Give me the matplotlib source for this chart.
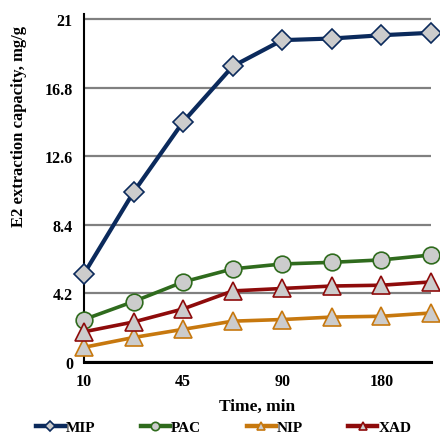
import numpy as np
import matplotlib.pyplot as plt

plt.rcParams['font.family'] = ['Liberation Serif', 'DejaVu Serif']
plt.rcParams['font.weight'] = 'bold'

# data
times = ['10', '30', '45', '60', '90', '120', '180', '240']
mip = [5.4, 10.4, 14.7, 18.1, 19.7, 19.8, 20.0, 20.15]
pac = [2.6, 3.7, 4.9, 5.7, 6.0, 6.1, 6.25, 6.55]
nip = [0.9, 1.5, 2.0, 2.5, 2.6, 2.75, 2.8, 3.0]
xad = [1.85, 2.45, 3.25, 4.35, 4.5, 4.65, 4.7, 4.9]

series = [('MIP', mip, '#0b2a5c', 'D', 10),
          ('PAC', pac, '#2f6b1d', 'o', 12),
          ('NIP', nip, '#c7780e', '^', 12.5),
          ('XAD', xad, '#8e0b0b', '^', 12.5)]

fig = plt.figure(figsize=(4.4, 4.35), dpi=100)
ax = fig.add_axes([84/440, 1 - 363/435, (431-84)/440, (363-15)/435])

x = np.arange(len(times))
for name, vals, col, mk, ms in series:
    ax.plot(x, vals, color=col, lw=3 if name == 'MIP' else 2.6,
            marker=mk, ms=ms, mfc='#cccccc', mec=col, mew=1.2,
            label=name, clip_on=False, zorder=3)

ax.set_xlim(0, 7)
ax.set_ylim(0, 21.3)
ax.set_yticks([0, 4.2, 8.4, 12.6, 16.8, 21])
ax.set_yticklabels(['0', '4.2', '8.4', '12.6', '16.8', '21'])
ax.set_xticks(x[::2])
ax.set_xticklabels(times[::2])
ax.tick_params(length=0, labelsize=11.5, pad=8)
ax.yaxis.grid(True, color='#808080', lw=1.6)
ax.set_axisbelow(True)

for s in ['top', 'right']:
    ax.spines[s].set_visible(False)
ax.spines['left'].set_linewidth(1.5)
ax.spines['bottom'].set_linewidth(2.2)

ax.set_xlabel('Time, min', fontsize=12.5, fontweight='bold', labelpad=6)
ax.set_ylabel('E2 extraction capacity, mg/g', fontsize=12, fontweight='bold')
ax.yaxis.set_label_coords(-0.165, 0.68)

handles, labels = ax.get_legend_handles_labels()
leg = fig.legend(handles, labels, loc='center', bbox_to_anchor=(0.508, 1 - 428/435),
                 ncol=4, frameon=False, fontsize=11, markerscale=0.5,
                 handlelength=1.9, handletextpad=0.05, columnspacing=3.0,
                 borderaxespad=0, borderpad=0)
for h in leg.get_lines():
    h.set_linewidth(3.2)

plt.savefig('out.png', dpi=100)
